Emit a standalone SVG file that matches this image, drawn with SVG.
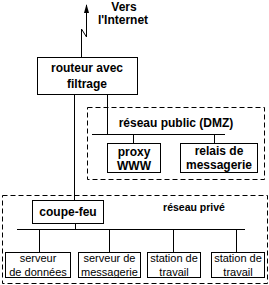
<svg xmlns="http://www.w3.org/2000/svg" width="269" height="285" viewBox="0 0 269 285">
<defs>
<style>
.box{fill:none;stroke:#000;stroke-width:1}
.dash{fill:none;stroke:#000;stroke-width:1;stroke-dasharray:5,3}
.ln{fill:none;stroke:#000;stroke-width:1}
.b{font-family:"Liberation Sans",Arial,sans-serif;font-weight:bold;font-size:12px;text-anchor:middle;fill:#000}
.r{font-family:"Liberation Sans",Arial,sans-serif;font-size:11px;text-anchor:middle;fill:#000}
</style>
</defs>
<rect width="269" height="285" fill="#fff"/>
<g id="zones">
<rect class="dash" x="87.5" y="107.5" width="177" height="72"/>
<rect class="dash" x="2.5" y="195.5" width="265" height="88"/>
</g>
<g id="connectors">
<path class="ln" d="M81.5,57 L81.5,29 L86.5,37 L86.5,5"/>
<path d="M84,13 L86.5,4 L89,13 Z" fill="#000"/>
<path class="ln" d="M74.5,95 V200"/>
<path class="ln" d="M107.5,95 V134.5"/>
<path class="ln" d="M92,134.5 H225"/>
<path class="ln" d="M133.5,134.5 V143 M214.5,134.5 V143"/>
<path class="ln" d="M75.5,224 V229.5"/>
<path class="ln" d="M17,229.5 H245"/>
<path class="ln" d="M39.5,229.5 V252 M109.5,229.5 V252 M173.5,229.5 V252 M236.5,229.5 V252"/>
</g>
<g id="internet">
<text class="b" x="124" y="11">Vers</text>
<text class="b" x="123" y="24">l'Internet</text>
</g>
<g id="routeur">
<rect class="box" x="37.5" y="57.5" width="100" height="37"/>
<text class="b" x="87" y="72">routeur avec</text>
<text class="b" x="87" y="88">filtrage</text>
</g>
<g id="dmz-label">
<text class="b" x="176" y="127">réseau public (DMZ)</text>
</g>
<g id="proxy">
<rect class="box" x="107.5" y="143.5" width="53" height="29"/>
<text class="b" x="134" y="156">proxy</text>
<text class="b" x="134" y="170">WWW</text>
</g>
<g id="relais">
<rect class="box" x="180.5" y="143.5" width="77" height="29"/>
<text class="b" x="219" y="155">relais de</text>
<text class="b" x="219" y="169">messagerie</text>
</g>
<g id="coupe-feu">
<rect class="box" x="32.5" y="200.5" width="71" height="23"/>
<text class="b" x="68" y="216">coupe-feu</text>
</g>
<g id="prive-label">
<text class="b" x="194" y="211" style="font-size:10.5px">réseau privé</text>
</g>
<g id="serveur-donnees">
<rect class="box" x="5.5" y="252.5" width="65" height="25"/>
<text class="r" x="38" y="262">serveur</text>
<text class="r" x="38" y="276">de données</text>
</g>
<g id="serveur-messagerie">
<rect class="box" x="78.5" y="252.5" width="62" height="25"/>
<text class="r" x="109.5" y="262">serveur de</text>
<text class="r" x="109.5" y="276">messagerie</text>
</g>
<g id="station1">
<rect class="box" x="147.5" y="252.5" width="53" height="25"/>
<text class="r" x="174" y="262">station de</text>
<text class="r" x="174" y="276">travail</text>
</g>
<g id="station2">
<rect class="box" x="211.5" y="252.5" width="53" height="25"/>
<text class="r" x="238" y="262">station de</text>
<text class="r" x="238" y="276">travail</text>
</g>
</svg>
